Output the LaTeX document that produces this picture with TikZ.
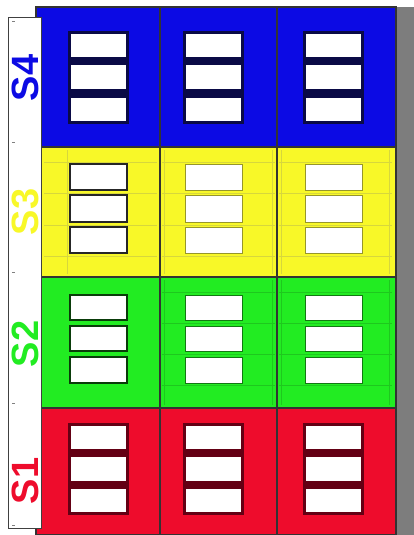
\documentclass[tikz,border=0pt]{standalone}
\usepackage{fontspec}
\setmainfont{Liberation Sans}
\definecolor{cblue}{RGB}{12,10,228}
\definecolor{cyel}{RGB}{248,248,40}
\definecolor{cgreen}{RGB}{34,236,34}
\definecolor{cred}{RGB}{238,12,44}
\definecolor{dnavy}{RGB}{10,10,70}
\definecolor{dred}{RGB}{100,0,20}
\definecolor{dgreen}{RGB}{10,60,10}
\definecolor{faintY}{RGB}{215,215,60}
\definecolor{faintG}{RGB}{30,200,30}
\definecolor{sgray}{RGB}{125,125,125}
\tikzset{
  cell/.style={draw=black!80, line width=1.2pt},
  winwhite/.style={fill=white},
  winlight/.style={fill=white, line width=0.6pt},
  lbl/.style={font=\fontsize{38}{38}\selectfont\bfseries, rotate=90, inner sep=0pt},
}
\begin{document}
\begin{tikzpicture}[x=1pt,y=-1pt]
\useasboundingbox (0,0) rectangle (414,535);
\fill[white] (0,0) rectangle (414,535);
% gray strip at right
\fill[sgray] (396,7) rectangle (414,535);
% rows
\fill[cblue]  (36,7)   rectangle (396,147);
\fill[cyel]   (36,147) rectangle (396,277);
\fill[cgreen] (36,277) rectangle (396,408);
\fill[cred]   (36,408) rectangle (396,535);
% faint inner lines in yellow and green
\foreach \cx in {160,277}{
  \draw[faintY, line width=0.6pt] (\cx+4,150) -- (\cx+4,274) (\cx+112,150) -- (\cx+112,274);
  \foreach \yy in {162,193,225,256}{\draw[faintY, line width=0.6pt] (\cx+2,\yy) -- (\cx+115,\yy);}
  \draw[faintG, line width=0.6pt] (\cx+4,280) -- (\cx+4,405) (\cx+112,280) -- (\cx+112,405);
  \foreach \yy in {292,323,354,385}{\draw[faintG, line width=0.6pt] (\cx+2,\yy) -- (\cx+115,\yy);}
}
\draw[faintY, line width=0.6pt] (67,150) -- (67,274);
\foreach \yy in {162,193,225,256}{\draw[faintY, line width=0.6pt] (44,\yy) -- (157,\yy);}
% grid lines
\draw[cell] (36,7) rectangle (396,535);
\foreach \cx in {160,277}{\draw[cell] (\cx,7) -- (\cx,535);}
\foreach \ry in {147,277,408}{\draw[cell] (36,\ry) -- (396,\ry);}
% windows, blue and red rows: dark frame with white panes
\foreach \wx in {70,185,305}{
  \fill[dnavy] (\wx-2,31) rectangle (\wx+59,124);
  \foreach \a/\b in {34/57,65/89,98/121}{\fill[winwhite] (\wx+1,\a) rectangle (\wx+56,\b);}
  \fill[dred] (\wx-2,423) rectangle (\wx+59,515);
  \foreach \a/\b in {426/449,457/481,489/512}{\fill[winwhite] (\wx+1,\a) rectangle (\wx+56,\b);}
}
\foreach \a/\b in {164/190,195/222,227/253}{\draw[line width=1.8pt, fill=white, draw=black!85] (70,\a) rectangle (127,\b);}
\foreach \a/\b in {295/320,326/351,357/383}{\draw[line width=1.8pt, fill=white, draw=dgreen] (70,\a) rectangle (127,\b);}
\foreach \wx in {185,305}{
  \foreach \a/\b in {164/190,195/222,227/253}{\draw[winlight, draw=faintY!70!black] (\wx,\a) rectangle (\wx+57,\b);}
  \foreach \a/\b in {295/320,326/351,357/383}{\draw[winlight, draw=faintG!60!black] (\wx,\a) rectangle (\wx+57,\b);}
}
% label strip
\draw[fill=white, draw=black!75, line width=0.8pt] (8,17) rectangle (41,528);
\foreach \ty in {22,142,272,403,525}{\draw[gray, line width=1pt] (12,\ty) -- (15,\ty);}
\node[lbl, text=cblue]  (s4) at (25,78)  {S4};
\node[lbl, text=cyel]   (s3) at (25,212) {S3};
\node[lbl, text=cgreen] (s2) at (25,344) {S2};
\node[lbl, text=cred]   (s1) at (25,481) {S1};
\end{tikzpicture}
\end{document}
